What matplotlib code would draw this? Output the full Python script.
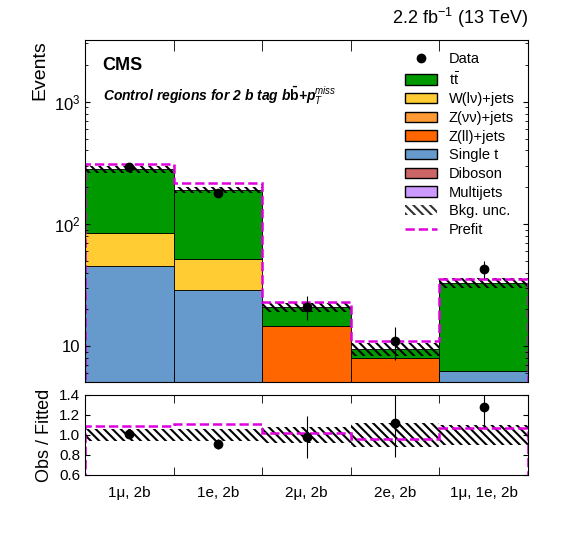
import numpy as np
import matplotlib.pyplot as plt
from matplotlib.patches import Patch
from matplotlib.lines import Line2D

plt.rcParams['font.family'] = ['Liberation Sans', 'DejaVu Sans']
plt.rcParams['hatch.color'] = '#333333'
plt.rcParams['hatch.linewidth'] = 1.5
plt.rcParams['mathtext.fontset'] = 'custom'
plt.rcParams['mathtext.rm'] = 'Liberation Sans'
plt.rcParams['mathtext.it'] = 'Liberation Sans:italic'
plt.rcParams['mathtext.bf'] = 'Liberation Sans:bold'

# Données
bins = ['1μ, 2b', '1e, 2b', '2μ, 2b', '2e, 2b', '1μ, 1e, 2b']
single_t = np.array([45, 29, 0.01, 0.01, 6.3])
zll = np.array([0, 0, 14.6, 8.0, 0])
wlv = np.array([40, 23, 0, 0, 0])
ttbar = np.array([195, 138, 6.2, 1.5, 26.7])
data = np.array([290, 180, 21, 11, 43])
data_err = np.array([17, 13, 4.6, 3.3, 6.6])
prefit = np.array([310, 215, 23, 11, 35.5])
unc_rel = np.array([0.06, 0.06, 0.08, 0.12, 0.10])

ratio = np.array([1.01, 0.91, 0.98, 1.12, 1.28])
ratio_err = np.array([0.03, 0.05, 0.21, 0.34, 0.20])
prefit_ratio = np.array([1.09, 1.11, 1.02, 0.96, 1.07])

colors = {'tt': '#009900', 'W': '#ffcc33', 'Zvv': '#ff9933', 'Zll': '#ff6600',
          'st': '#6699cc', 'VV': '#cc6666', 'QCD': '#cc99ff'}

x = np.arange(len(bins))
edges = np.arange(len(bins) + 1)

fig = plt.figure(figsize=(5.68, 5.51), dpi=100)
ax = fig.add_axes([85/568, 1-382/551, 443/568, 342/551])
ax1 = fig.add_axes([85/568, 1-475/551, 443/568, 80/551])

bottom = np.zeros(len(bins))
for vals, c in [(single_t, colors['st']), (zll, colors['Zll']), (wlv, colors['W']), (ttbar, colors['tt'])]:
    ax.bar(x, vals, width=1, bottom=bottom, color=c, edgecolor='k', linewidth=0.6, align='center')
    bottom = bottom + vals
total = bottom
ax.bar(x, 2*unc_rel*total, width=1, bottom=total*(1-unc_rel), fill=False, hatch='\\\\\\\\', linewidth=0)
ax.stairs(prefit, edges - 0.5, color='#dd00dd', linestyle='--', linewidth=1.8)
ax.errorbar(x, data, yerr=data_err, fmt='o', color='k', ms=6, elinewidth=0.8)

ax.set_yscale('log')
ax.set_ylim(5.1, 3200)
ax.set_xlim(-0.5, 4.5)
ax.set_xticks(x)
ax.set_xticklabels([])
ax.set_yticks([10, 100, 1000])
ax.set_yticklabels(['10', '$10^2$', '$10^3$'])
ax.tick_params(which='both', direction='in', top=True, right=True, labelsize=12)
ax.set_ylabel('Events', fontsize=14, loc='top')
ax.text(0.04, 0.95, 'CMS', transform=ax.transAxes, fontsize=13, fontweight='bold', va='top')
ax.text(0.04, 0.87, r'Control regions for 2 b tag b$\mathbf{\bar{b}}$+p$_{\mathit{T}}^{\mathit{miss}}$',
        transform=ax.transAxes, fontsize=10, fontweight='bold', style='italic', va='top')
fig.text(528/568, 1-18/551, '2.2 fb$^{-1}$ (13 TeV)', ha='right', va='center', fontsize=13)

handles = [Line2D([], [], marker='o', color='k', ls='', ms=6),
           Patch(fc=colors['tt'], ec='k'), Patch(fc=colors['W'], ec='k'), Patch(fc=colors['Zvv'], ec='k'),
           Patch(fc=colors['Zll'], ec='k'), Patch(fc=colors['st'], ec='k'), Patch(fc=colors['VV'], ec='k'),
           Patch(fc=colors['QCD'], ec='k'), Patch(fc='white', hatch='\\\\\\\\', lw=0),
           Line2D([], [], color='#dd00dd', ls='--', lw=1.8)]
labels = [r'Data', r't$\bar{\mathrm{t}}$', 'W(lν)+jets', 'Z(νν)+jets', 'Z(ll)+jets', 'Single t',
          'Diboson', 'Multijets', 'Bkg. unc.', 'Prefit']
ax.legend(handles, labels, loc='upper right', frameon=False, fontsize=10.5, handlelength=2.2,
          labelspacing=0.32, borderaxespad=0.2, bbox_to_anchor=(0.99, 0.99))

ax1.bar(x, 2*unc_rel, width=1, bottom=1-unc_rel, fill=False, hatch='\\\\\\\\', linewidth=0)
ax1.stairs(prefit_ratio, edges - 0.5, color='#dd00dd', linestyle='--', linewidth=1.8)
ax1.errorbar(x, ratio, yerr=ratio_err, fmt='o', color='k', ms=6, elinewidth=0.8)
ax1.set_xlim(-0.5, 4.5)
ax1.set_ylim(0.6, 1.4)
ax1.set_yticks([0.6, 0.8, 1.0, 1.2, 1.4])
ax1.set_yticklabels(['0.6', '0.8', '1.0', '1.2', '1.4'])
ax1.set_xticks(x)
ax1.set_xticklabels(bins)
ax1.set_xticks(edges[1:-1] - 0.5, minor=True)
ax1.tick_params(which='both', direction='in', top=True, right=True, labelsize=11)
ax1.tick_params(axis='x', which='major', length=0, pad=8)
ax1.tick_params(axis='x', which='minor', length=6)
ax.set_xticks(edges[1:-1] - 0.5, minor=True)
ax.tick_params(axis='x', which='major', length=0)
ax.tick_params(axis='x', which='minor', length=8)
ax1.set_ylabel('Obs / Fitted', fontsize=13)

fig.savefig('out.png', dpi=100)
